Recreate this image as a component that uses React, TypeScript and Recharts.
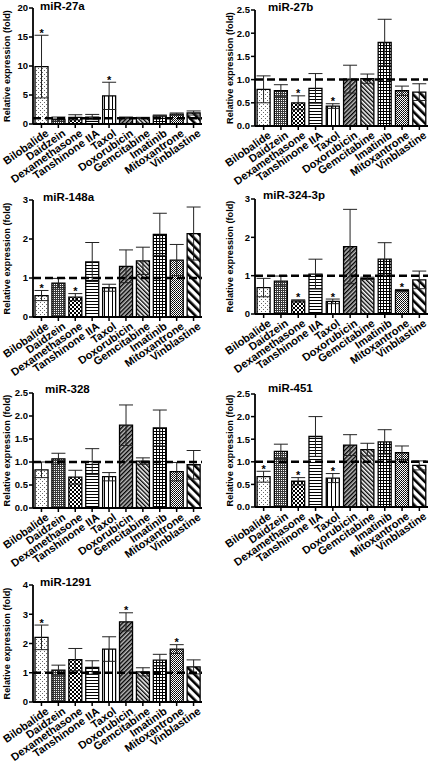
import React from 'react';
import { BarChart, Bar, XAxis, YAxis, ErrorBar, ReferenceLine, Cell, LabelList } from 'recharts';

const FONT = "'Liberation Sans', Arial, Helvetica, sans-serif";

const categories = ['Bilobalide', 'Daidzein', 'Dexamethasone', 'Tanshinone IIA', 'Taxol', 'Doxorubicin', 'Gemcitabine', 'Imatinib', 'Mitoxantrone', 'Vinblastine'];

const mir27aMean = [9.9, 0.85, 1.15, 1.2, 4.85, 1.1, 1.05, 1.4, 1.7, 1.9];
const mir27aErr = [5.4, 0.35, 0.45, 0.45, 2.35, 0.1, 0.1, 0.15, 0.2, 0.35];
const mir27aStars = [0, 4];
const mir27aTicks = [0, 5, 10, 15, 20];

const mir27bMean = [0.79, 0.76, 0.5, 0.81, 0.43, 1.01, 1.02, 1.8, 0.76, 0.73];
const mir27bErr = [0.29, 0.13, 0.15, 0.32, 0.05, 0.3, 0.1, 0.5, 0.1, 0.18];
const mir27bStars = [2, 4];
const mir27bTicks = [0, 0.5, 1, 1.5, 2, 2.5];

const mir148aMean = [0.55, 0.87, 0.51, 1.41, 0.75, 1.3, 1.44, 2.12, 1.46, 2.14];
const mir148aErr = [0.13, 0.12, 0.09, 0.5, 0.09, 0.42, 0.35, 0.54, 0.4, 0.68];
const mir148aStars = [0, 2];
const mir148aTicks = [0, 1, 2, 3];

const mir324Mean = [0.69, 0.86, 0.34, 1.04, 0.33, 1.76, 0.93, 1.43, 0.61, 0.89];
const mir324Err = [0.24, 0.13, 0.03, 0.39, 0.06, 0.97, 0.03, 0.43, 0.03, 0.23];
const mir324Stars = [2, 4, 8];
const mir324Ticks = [0, 1, 2, 3];

const mir328Mean = [0.83, 1.07, 0.67, 1.01, 0.68, 1.8, 1.02, 1.74, 0.79, 0.94];
const mir328Err = [0.17, 0.12, 0.15, 0.28, 0.09, 0.44, 0.07, 0.39, 0.2, 0.31];
const mir328Stars: number[] = [];
const mir328Ticks = [0, 0.5, 1, 1.5, 2, 2.5];

const mir451Mean = [0.67, 1.23, 0.57, 1.56, 0.64, 1.37, 1.27, 1.44, 1.2, 0.92];
const mir451Err = [0.12, 0.16, 0.08, 0.44, 0.1, 0.23, 0.14, 0.27, 0.15, 0.1];
const mir451Stars = [0, 2, 4];
const mir451Ticks = [0, 0.5, 1, 1.5, 2, 2.5];

const mir1291Mean = [2.21, 1.09, 1.45, 1.18, 1.81, 2.74, 1.03, 1.43, 1.81, 1.2];
const mir1291Err = [0.42, 0.17, 0.38, 0.23, 0.42, 0.31, 0.14, 0.2, 0.15, 0.24];
const mir1291Stars = [0, 5, 8];
const mir1291Ticks = [0, 1, 2, 3, 4];

const Patterns = () => (
  <svg width={0} height={0} style={{ position: 'absolute', left: 0, top: 0 }}>
    <defs>
      <pattern id="p0" width={4} height={4} patternUnits="userSpaceOnUse">
        <rect width={4} height={4} fill="#fff" />
        <rect x={0} y={0} width={1} height={1} fill="#666" />
        <rect x={2} y={2} width={1} height={1} fill="#666" />
      </pattern>
      <pattern id="p1" width={2} height={2} patternUnits="userSpaceOnUse">
        <rect width={2} height={2} fill="#3a3a3a" />
        <rect x={0} y={0} width={1} height={1} fill="#fff" />
      </pattern>
      <pattern id="p2" width={4} height={4} patternUnits="userSpaceOnUse">
        <rect width={4} height={4} fill="#fff" />
        <rect x={0} y={0} width={2} height={2} fill="#000" />
        <rect x={2} y={2} width={2} height={2} fill="#000" />
      </pattern>
      <pattern id="p3" width={3} height={3} patternUnits="userSpaceOnUse">
        <rect width={3} height={3} fill="#fff" />
        <rect x={0} y={0} width={3} height={1} fill="#000" />
      </pattern>
      <pattern id="p4" width={4} height={4} patternUnits="userSpaceOnUse">
        <rect width={4} height={4} fill="#fff" />
        <rect x={0} y={0} width={1} height={4} fill="#000" />
      </pattern>
      <pattern id="p5" width={3} height={3} patternUnits="userSpaceOnUse" patternTransform="rotate(45)">
        <rect width={3} height={3} fill="#bbb" />
        <rect x={0} y={0} width={1.4} height={3} fill="#000" />
      </pattern>
      <pattern id="p6" width={3} height={3} patternUnits="userSpaceOnUse" patternTransform="rotate(-45)">
        <rect width={3} height={3} fill="#fff" />
        <rect x={0} y={0} width={1.4} height={3} fill="#000" />
      </pattern>
      <pattern id="p7" width={3} height={3} patternUnits="userSpaceOnUse">
        <rect width={3} height={3} fill="#fff" />
        <rect x={0} y={0} width={3} height={1} fill="#000" />
        <rect x={0} y={0} width={1} height={3} fill="#000" />
      </pattern>
      <pattern id="p8" width={2} height={2} patternUnits="userSpaceOnUse">
        <rect width={2} height={2} fill="#fff" />
        <rect x={0} y={0} width={1} height={1} fill="#000" />
        <rect x={1} y={1} width={1} height={1} fill="#222" />
      </pattern>
      <pattern id="p9" width={6} height={6} patternUnits="userSpaceOnUse" patternTransform="rotate(-45)">
        <rect width={6} height={6} fill="#fff" />
        <rect x={0} y={0} width={2.6} height={6} fill="#000" />
      </pattern>
    </defs>
  </svg>
);

const CatTick = (props: any) => {
  const { x, y, payload } = props;
  return (
    <g transform={`translate(${x},${y})`}>
      <text
        x={0}
        y={0}
        textAnchor="end"
        transform="translate(8,5) rotate(-35)"
        fontSize={11}
        fontWeight="bold"
        fontFamily={FONT}
        fill="#000"
      >
        {payload.value}
      </text>
    </g>
  );
};

const makeYLabel = (offset: number) => (props: any) => {
  const vb = props.viewBox || {};
  const cx = vb.x + offset;
  const cy = vb.y + vb.height / 2;
  return (
    <text
      x={cx}
      y={cy}
      transform={`rotate(-90 ${cx} ${cy})`}
      textAnchor="middle"
      dominantBaseline="central"
      fontSize={9.2}
      fontWeight="bold"
      fontFamily={FONT}
      fill="#000"
    >
      Relative expression (fold)
    </text>
  );
};

type PanelProps = {
  title: string;
  mean: number[];
  err: number[];
  stars: number[];
  ticks: number[];
  decimals: number;
  col: number;
  plotTop: number;
  plotBottom: number;
};

const Panel = ({ mean, err, stars, ticks, decimals, col, plotTop, plotBottom }: PanelProps) => {
  const data = categories.map((c, i) => ({ name: c, mean: mean[i], err: err[i], star: stars.includes(i) ? 1 : 0 }));
  const left = col === 0 ? 0 : 215;
  const width = col === 0 ? 215 : 214;
  const yw = col === 0 ? 33 : 40;
  const mr = col === 0 ? 13 : 1;
  const mt = 10;
  const xh = 75;
  const plotH = plotBottom - plotTop;
  const height = mt + plotH + xh;
  const labelOffset = col === 0 ? 6.5 : 15;

  const starContent = (p: any) => {
    const idx = p.index;
    if (idx == null || !data[idx] || !data[idx].star) return null;
    const vb = p.viewBox || p;
    const m = data[idx].mean;
    const e = data[idx].err;
    const pxPerUnit = vb.height / m;
    const yTop = vb.y - e * pxPerUnit;
    return (
      <text
        x={vb.x + vb.width / 2}
        y={yTop + 1.5}
        textAnchor="middle"
        fontSize={11}
        fontWeight="bold"
        fontFamily={FONT}
        fill="#000"
      >
        *
      </text>
    );
  };

  return (
    <div style={{ position: 'absolute', left, top: plotTop - mt, width, height }}>
      <BarChart
        width={width}
        height={height}
        data={data}
        margin={{ top: mt, right: mr, bottom: 0, left: 0 }}
        barCategoryGap="12%"
      >
        <XAxis
          dataKey="name"
          interval={0}
          height={xh}
          tick={CatTick}
          tickSize={4}
          tickLine={{ stroke: '#000', strokeWidth: 1.5 }}
          axisLine={{ stroke: '#000', strokeWidth: 1.8 }}
        />
        <YAxis
          width={yw}
          domain={[0, ticks[ticks.length - 1]]}
          ticks={ticks}
          interval={0}
          tickSize={4}
          tickMargin={1}
          tickFormatter={(v: number) => v.toFixed(decimals)}
          tick={{ fontSize: 9.5, fontWeight: 'bold', fontFamily: FONT, fill: '#000' }}
          tickLine={{ stroke: '#000', strokeWidth: 1.5 }}
          axisLine={{ stroke: '#000', strokeWidth: 1.8 }}
          label={makeYLabel(labelOffset)}
        />
        <Bar dataKey="mean" stroke="#000" strokeWidth={1.3} isAnimationActive={false}>
          {data.map((d, i) => (
            <Cell key={d.name} fill={`url(#p${i})`} />
          ))}
          <ErrorBar dataKey="err" width={7} stroke="#222" strokeWidth={1} direction="y" />
          <LabelList dataKey="mean" content={starContent} />
        </Bar>
        <ReferenceLine y={1} stroke="#000" strokeWidth={2.5} strokeDasharray="8 4" />
      </BarChart>
    </div>
  );
};

const titles = [
  { text: 'miR-27a', x: 40, y: 10 },
  { text: 'miR-27b', x: 268, y: 11 },
  { text: 'miR-148a', x: 43, y: 201 },
  { text: 'miR-324-3p', x: 263, y: 199 },
  { text: 'miR-328', x: 45, y: 393 },
  { text: 'miR-451', x: 268, y: 392 },
  { text: 'miR-1291', x: 40, y: 586 },
];

export default function App() {
  return (
    <div style={{ position: 'absolute', left: 0, top: 0, width: 429, height: 765, background: '#fff', overflow: 'hidden' }}>
      <Patterns />
      <Panel title="miR-27a" mean={mir27aMean} err={mir27aErr} stars={mir27aStars} ticks={mir27aTicks} decimals={0} col={0} plotTop={8} plotBottom={124} />
      <Panel title="miR-27b" mean={mir27bMean} err={mir27bErr} stars={mir27bStars} ticks={mir27bTicks} decimals={1} col={1} plotTop={10} plotBottom={126} />
      <Panel title="miR-148a" mean={mir148aMean} err={mir148aErr} stars={mir148aStars} ticks={mir148aTicks} decimals={0} col={0} plotTop={200} plotBottom={317} />
      <Panel title="miR-324-3p" mean={mir324Mean} err={mir324Err} stars={mir324Stars} ticks={mir324Ticks} decimals={0} col={1} plotTop={199} plotBottom={314} />
      <Panel title="miR-328" mean={mir328Mean} err={mir328Err} stars={mir328Stars} ticks={mir328Ticks} decimals={1} col={0} plotTop={393} plotBottom={508} />
      <Panel title="miR-451" mean={mir451Mean} err={mir451Err} stars={mir451Stars} ticks={mir451Ticks} decimals={1} col={1} plotTop={394} plotBottom={507} />
      <Panel title="miR-1291" mean={mir1291Mean} err={mir1291Err} stars={mir1291Stars} ticks={mir1291Ticks} decimals={0} col={0} plotTop={585} plotBottom={702} />
      <svg width={429} height={765} style={{ position: 'absolute', left: 0, top: 0, pointerEvents: 'none' }}>
        {titles.map((t) => (
          <text key={t.text} x={t.x} y={t.y} fontSize={11.5} fontWeight="bold" fontFamily={FONT} fill="#000">
            {t.text}
          </text>
        ))}
      </svg>
    </div>
  );
}
